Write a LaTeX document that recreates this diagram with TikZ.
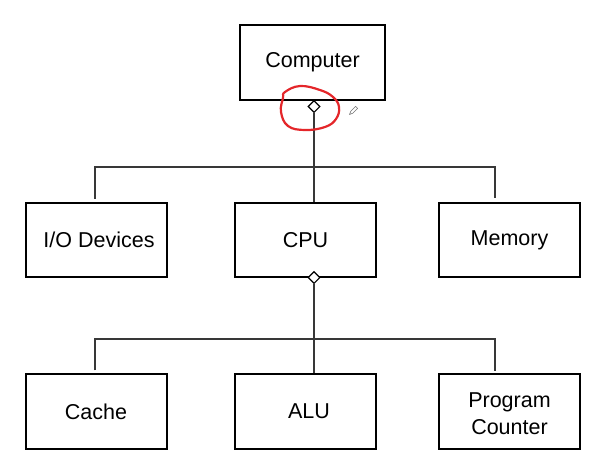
\documentclass[tikz,border=0pt]{standalone}
\usepackage{fontspec}
\setmainfont{Liberation Sans}
\usetikzlibrary{shapes.geometric}
\begin{document}
\begin{tikzpicture}[x=1pt,y=-1pt,
  box/.style={draw=black, line width=2pt, minimum width=141pt, minimum height=74.5pt, inner sep=0pt, align=center, font=\fontsize{21.5}{26.5}\selectfont},
  agg/.style={shape=diamond, draw=black, line width=1.1pt, fill=white, minimum width=12pt, minimum height=12pt, inner sep=0pt},
  conn/.style={draw=black!78, line width=1.2pt},
  mark red/.style={draw={rgb,255:red,228;green,38;blue,42}, line width=2.2pt, line cap=round, line join=round}]
\useasboundingbox (0,0) rectangle (604,466);
% boxes
\node[box, minimum width=145pt, minimum height=75pt, line width=2.3pt] (comp) at (312.5,62.5) {Computer};
\node[box] (io)   at (96,240)    {\hspace*{6pt}I/O Devices};
\node[box] (cpu)  at (305.5,240) {CPU};
\node[box] (mem)  at (509.5,240) {Memory};
\node[box] (cache) at (96,411.5)  {Cache};
\node[box] (alu)   at (305.5,411.5) {\hspace*{7pt}ALU};
\node[box] (pc)    at (509.5,411.5) {\rule{0pt}{19pt}Program\\Counter};
% aggregation diamonds
\node[agg] (d1) at (314,106.5) {};
\node[agg] (d2) at (314,277.5) {};
% junction coordinates
\coordinate (jl) at (95,167);
\coordinate (jr) at (495,167);
\coordinate (mt) at (495,198);
\coordinate (jl2) at (95,339);
\coordinate (jr2) at (495,339);
\coordinate (pt) at (495,371);
% connectors
\draw[conn] (d1.south) -- (d1.south |- cpu.north);
\draw[conn] ([yshift=3pt]io.north -| jl) -- (jl) -- (jr) -- (mt);
\draw[conn] (d2.south) -- (d2.south |- alu.north);
\draw[conn] ([yshift=3pt]cache.north -| jl2) -- (jl2) -- (jr2) -- (pt);
% hand-drawn red circle
\draw[mark red] plot[smooth cycle, tension=0.7] coordinates {
  (285,92) (300,86) (320,90) (333,97) (339,107) (336,119) (325,127)
  (305,130) (288,126) (281,112) (283,98)};
% small pencil cursor
\draw[black!55, line width=0.6pt, line join=round]
  (349.5,114.5) -- (350.8,111.2) -- (355.6,106.4) -- (357.6,108.4) -- (352.8,113.2) -- cycle;
\end{tikzpicture}
\end{document}
